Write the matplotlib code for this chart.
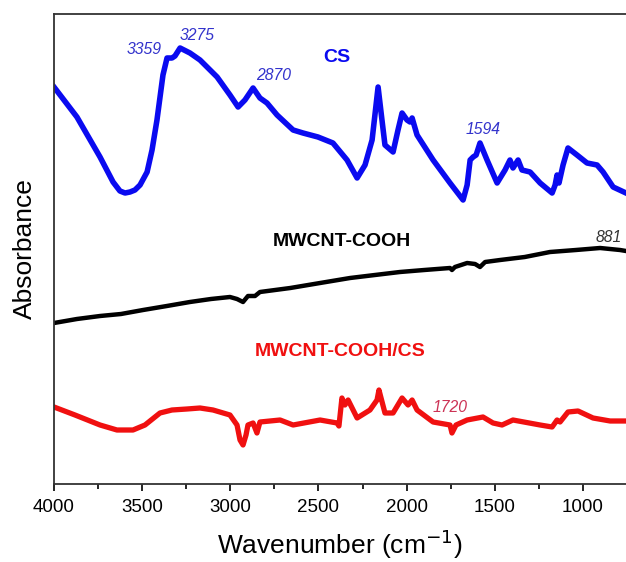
import matplotlib.pyplot as plt

plt.rcParams['font.family'] = ['Liberation Sans', 'DejaVu Sans']

# CS spectrum (wavenumber cm-1, absorbance a.u.)
wn_cs = [4000, 3870, 3739, 3665, 3626, 3597, 3569, 3541, 3512, 3472, 3444, 3416, 3382, 3359,
         3331, 3314, 3285, 3229, 3172, 3075, 3002, 2956, 2917, 2871, 2832, 2792, 2735, 2644,
         2588, 2503, 2418, 2338, 2281, 2236, 2196, 2162, 2140, 2123, 2077, 2049, 2026, 1998,
         1981, 1969, 1941, 1850, 1754, 1680, 1657, 1640, 1623, 1606, 1584, 1544, 1487, 1442,
         1414, 1397, 1368, 1346, 1300, 1243, 1175, 1158, 1147, 1136, 1113, 1085, 1034, 977,
         920, 886, 829, 756]
abs_cs = [3.97, 3.67, 3.27, 3.02, 2.93, 2.91, 2.92, 2.94, 2.99, 3.12, 3.34, 3.64, 4.09, 4.26,
          4.26, 4.28, 4.36, 4.31, 4.24, 4.07, 3.89, 3.77, 3.84, 3.96, 3.86, 3.81, 3.69, 3.54,
          3.51, 3.47, 3.41, 3.24, 3.06, 3.19, 3.44, 3.97, 3.64, 3.39, 3.32, 3.54, 3.71, 3.64,
          3.62, 3.66, 3.49, 3.24, 3.01, 2.84, 2.99, 3.24, 3.27, 3.29, 3.41, 3.24, 3.01, 3.14,
          3.24, 3.16, 3.24, 3.14, 3.12, 3.01, 2.91, 2.99, 3.09, 3.01, 3.19, 3.36, 3.29, 3.21,
          3.19, 3.12, 2.97, 2.91]

# MWCNT-COOH spectrum
wn_cnt = [4000, 3870, 3739, 3620, 3495, 3360, 3229, 3110, 3002, 2962, 2928, 2900, 2860, 2832,
          2660, 2491, 2321, 2180, 2038, 1900, 1754, 1743, 1726, 1657, 1612, 1584, 1555, 1470,
          1330, 1187, 1040, 903, 790, 756]
abs_cnt = [1.61, 1.65, 1.68, 1.70, 1.74, 1.78, 1.82, 1.85, 1.87, 1.85, 1.82, 1.88, 1.88, 1.92,
           1.96, 2.01, 2.06, 2.09, 2.12, 2.14, 2.16, 2.14, 2.17, 2.21, 2.20, 2.17, 2.22, 2.24,
           2.27, 2.32, 2.34, 2.36, 2.34, 2.33]

# MWCNT-COOH/CS spectrum
wn_comp = [4000, 3881, 3739, 3643, 3552, 3484, 3399, 3331, 3246, 3172, 3098, 3002, 2962, 2945,
           2928, 2911, 2900, 2871, 2849, 2832, 2718, 2644, 2491, 2395, 2384, 2367, 2350, 2332,
           2281, 2208, 2168, 2157, 2123, 2077, 2026, 1992, 1969, 1941, 1850, 1754, 1743, 1720,
           1657, 1567, 1510, 1459, 1397, 1243, 1175, 1147, 1130, 1085, 1028, 943, 846, 756]
abs_comp = [0.77, 0.69, 0.59, 0.54, 0.54, 0.59, 0.71, 0.74, 0.75, 0.76, 0.74, 0.69, 0.59, 0.44,
            0.39, 0.49, 0.59, 0.61, 0.51, 0.62, 0.64, 0.59, 0.64, 0.61, 0.58, 0.86, 0.79, 0.84,
            0.66, 0.74, 0.84, 0.94, 0.71, 0.71, 0.86, 0.79, 0.84, 0.74, 0.62, 0.59, 0.51, 0.59,
            0.64, 0.67, 0.61, 0.59, 0.64, 0.59, 0.57, 0.64, 0.62, 0.72, 0.73, 0.66, 0.63, 0.63]

# peak labels: (text, wavenumber, absorbance, colour)
peaks = [("3359", 3490, 4.34, '#3333cc'), ("3275", 3189, 4.49, '#3333cc'),
         ("2870", 2752, 4.08, '#3333cc'), ("1594", 1567, 3.54, '#3333cc'),
         ("881", 852, 2.47, '#333333'), ("1720", 1754, 0.77, '#cc3355')]

fig = plt.figure(figsize=(6.26, 5.62), dpi=100)
ax = fig.add_axes([54 / 626, 78 / 562, 572 / 626, 470 / 562])

ax.plot(wn_cs, abs_cs, color='#0a0af0', lw=4, solid_joinstyle='round')
ax.plot(wn_cnt, abs_cnt, color='black', lw=3.2, solid_joinstyle='round')
ax.plot(wn_comp, abs_comp, color='#f01010', lw=3.8, solid_joinstyle='round')

for txt, x, y, c in peaks:
    ax.text(x, y, txt, color=c, fontsize=11.3, style='italic', ha='center', va='center')

ax.text(2395, 4.27, "CS", color='#0a0af0', fontsize=14, fontweight='bold', ha='center', va='center')
ax.text(2366, 2.42, "MWCNT-COOH", color='black', fontsize=14, fontweight='bold', ha='center', va='center')
ax.text(2378, 1.32, "MWCNT-COOH/CS", color='#f01010', fontsize=14, fontweight='bold', ha='center', va='center')

ax.set_xlim(4000, 756)
ax.set_ylim(0, 4.70)
ax.set_xticks([4000, 3500, 3000, 2500, 2000, 1500, 1000])
ax.set_xticks([3750, 3250, 2750, 2250, 1750, 1250], minor=True)
ax.set_yticks([])
ax.tick_params(axis='x', which='major', direction='out', length=5, width=1.2, labelsize=13.5, pad=6)
ax.tick_params(axis='x', which='minor', direction='out', length=3.5, width=1.2)
ax.spines['right'].set_visible(False)
for s in ['left', 'top', 'bottom']:
    ax.spines[s].set_linewidth(1.3)
    ax.spines[s].set_color('#333333')

ax.set_xlabel("Wavenumber (cm$^{-1}$)", fontsize=19, labelpad=8)
ax.set_ylabel("Absorbance", fontsize=19, labelpad=12)

plt.savefig("out.png", dpi=100)
